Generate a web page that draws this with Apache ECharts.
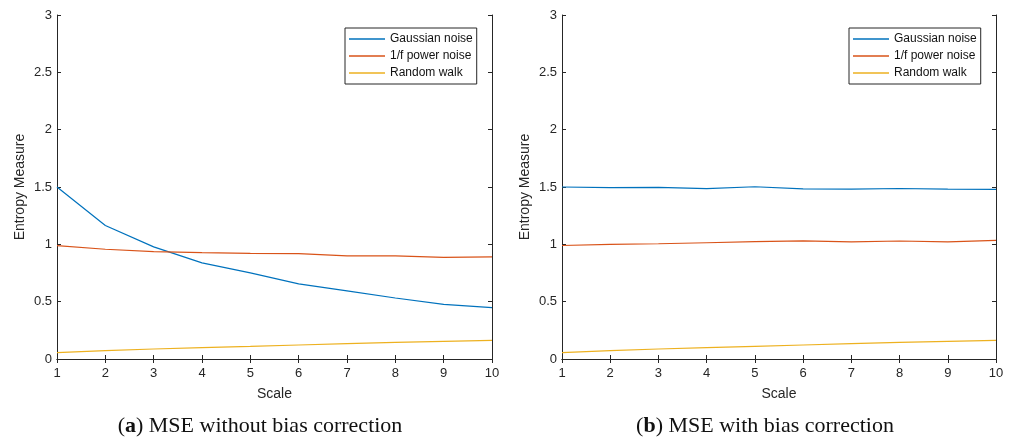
<!DOCTYPE html>
<html>
<head>
<meta charset="utf-8">
<script src="https://cdn.jsdelivr.net/npm/echarts@6/dist/echarts.min.js"></script>
<style>
  html, body { margin: 0; padding: 0; background: #fff; }
  #main { width: 1017px; height: 439px; }
</style>
</head>
<body>
<div id="main"></div>
<script>
var scales = [1, 2, 3, 4, 5, 6, 7, 8, 9, 10];
var seriesNames = ['Gaussian noise', '1/f power noise', 'Random walk'];
var colors = ['#0072BD', '#D95319', '#EDB120'];

// (a) MSE without bias correction
var gaussA = [1.5, 1.164, 0.978, 0.838, 0.751, 0.655, 0.594, 0.532, 0.477, 0.448];
var pinkA = [0.989, 0.957, 0.937, 0.928, 0.922, 0.919, 0.899, 0.899, 0.887, 0.89];
var walkA = [0.055, 0.073, 0.087, 0.099, 0.11, 0.122, 0.134, 0.145, 0.154, 0.163];

// (b) MSE with bias correction
var gaussB = [1.5, 1.495, 1.497, 1.486, 1.502, 1.484, 1.482, 1.487, 1.481, 1.479];
var pinkB = [0.99, 1.0, 1.005, 1.014, 1.024, 1.03, 1.022, 1.029, 1.022, 1.035];
var walkB = [0.055, 0.073, 0.087, 0.099, 0.11, 0.122, 0.134, 0.145, 0.154, 0.163];

var axisColor = '#262626';
var sans = 'Liberation Sans, Arial, sans-serif';
var serif = 'Liberation Serif, serif';

function pairs(vals) {
  return scales.map(function (s, i) { return [s, vals[i]]; });
}

var grids = [
  { left: 57, top: 15, width: 435, height: 344 },
  { left: 562, top: 15, width: 434, height: 344 }
];

var xAxes = [], yAxes = [];
grids.forEach(function (g, gi) {
  xAxes.push({
    type: 'value', gridIndex: gi, min: 1, max: 10, interval: 1, position: 'bottom',
    name: 'Scale', nameLocation: 'middle', nameGap: 28,
    nameTextStyle: { color: axisColor, fontSize: 14, fontFamily: sans },
    axisLine: { lineStyle: { color: axisColor, width: 1 } },
    axisTick: { inside: true, length: 4, lineStyle: { color: axisColor } },
    axisLabel: { color: axisColor, fontSize: 13, fontFamily: sans, margin: 8 },
    splitLine: { show: false }
  });
  xAxes.push({
    type: 'value', gridIndex: gi, min: 1, max: 10, interval: 1, position: 'top',
    axisLine: { lineStyle: { color: axisColor, width: 1 } },
    axisTick: { inside: true, length: 4, lineStyle: { color: axisColor } },
    axisLabel: { show: false },
    splitLine: { show: false }
  });
  yAxes.push({
    type: 'value', gridIndex: gi, min: 0, max: 3, interval: 0.5, position: 'left',
    name: 'Entropy Measure', nameLocation: 'middle', nameGap: 30, nameRotate: 90,
    nameTextStyle: { color: axisColor, fontSize: 14, fontFamily: sans },
    axisLine: { show: true, lineStyle: { color: axisColor, width: 1 } },
    axisTick: { show: true, inside: true, length: 4, lineStyle: { color: axisColor } },
    axisLabel: { color: axisColor, fontSize: 13, fontFamily: sans, margin: 5 },
    splitLine: { show: false }
  });
  yAxes.push({
    type: 'value', gridIndex: gi, min: 0, max: 3, interval: 0.5, position: 'right',
    axisLine: { show: true, lineStyle: { color: axisColor, width: 1 } },
    axisTick: { show: true, inside: true, length: 4, lineStyle: { color: axisColor } },
    axisLabel: { show: false },
    splitLine: { show: false }
  });
});

var panelData = [[gaussA, pinkA, walkA], [gaussB, pinkB, walkB]];
var series = [];
panelData.forEach(function (set, gi) {
  set.forEach(function (vals, si) {
    series.push({
      type: 'line', name: seriesNames[si],
      xAxisIndex: gi * 2, yAxisIndex: gi * 2,
      data: pairs(vals), symbol: 'none', smooth: false,
      lineStyle: { color: colors[si], width: 1.2 },
      itemStyle: { color: colors[si] },
      animation: false
    });
  });
});

function legendAt(left) {
  return {
    data: seriesNames.map(function (n) { return { name: n, icon: 'rect' }; }),
    orient: 'vertical', left: left, top: 28,
    itemWidth: 36, itemHeight: 1.5, itemGap: 5,
    padding: [5, 4, 5, 4],
    borderColor: axisColor, borderWidth: 1, backgroundColor: '#fff',
    textStyle: { color: '#111', fontSize: 12, fontFamily: sans, lineHeight: 12 },
    selectedMode: false
  };
}

function caption(letter, rest, cx) {
  return {
    text: '({b|' + letter + '}) ' + rest, left: cx, top: 410, textAlign: 'center',
    textStyle: {
      fontSize: 22, fontWeight: 'normal', color: '#111', fontFamily: serif,
      rich: { b: { fontSize: 22, fontWeight: 'bold', fontFamily: serif, color: '#111' } }
    }
  };
}

var chart = echarts.init(document.getElementById('main'), null, { renderer: 'canvas' });
chart.setOption({
  backgroundColor: '#fff',
  animation: false,
  grid: grids,
  xAxis: xAxes,
  yAxis: yAxes,
  legend: [legendAt(345), legendAt(849)],
  title: [
    caption('a', 'MSE without bias correction', 255),
    caption('b', 'MSE with bias correction', 760)
  ],
  series: series
});
</script>
</body>
</html>
